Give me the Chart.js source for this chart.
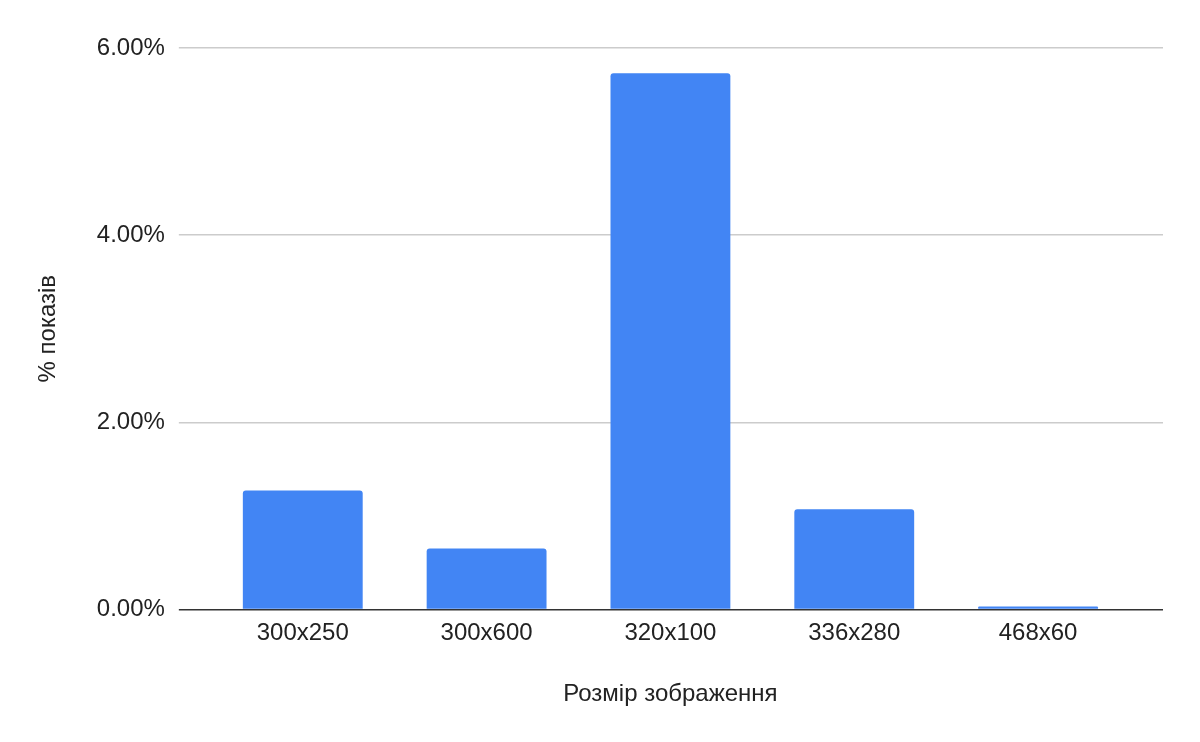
<!DOCTYPE html>
<html>
<head>
<meta charset="utf-8">
<script src="https://cdn.jsdelivr.net/npm/chart.js@4/dist/chart.umd.min.js"></script>
<style>
  html, body { margin: 0; padding: 0; background: #fff; }
  #wrap { width: 1200px; height: 742px; }
</style>
</head>
<body>
<div id="wrap"><canvas id="c"></canvas></div>
<script>
"use strict";
// banner sizes vs share of impressions (in %)
const sizes = ["300x250", "300x600", "320x100", "336x280", "468x60"];
const sharePct = [1.27, 0.65, 5.73, 1.07, 0.03];
const yTicks = [0, 2, 4, 6];

const FONT = "'Liberation Sans', Arial, sans-serif";
const ink = "#222222";
const gridCol = (ctx) => (ctx.tick && ctx.tick.value === 0 ? "#333333" : "#cccccc");

new Chart(document.getElementById("c"), {
  type: "bar",
  data: {
    labels: sizes,
    datasets: [{
      label: "% показів",
      data: sharePct,
      backgroundColor: "#4285f4",
      borderRadius: 3,
      borderSkipped: "start",
      barPercentage: 1,
      categoryPercentage: 0.652,
    }],
  },
  options: {
    responsive: true, maintainAspectRatio: false, animation: false,
    layout: { padding: { top: 48, right: 37, bottom: 4, left: 0 } },
    plugins: { legend: { display: false }, tooltip: { enabled: false } },
    scales: {
      x: {
        grid: { display: false, drawTicks: false },
        border: { display: false },
        ticks: { color: ink, font: { family: FONT, size: 24 }, padding: 10, maxRotation: 0 },
        title: { display: true, text: "Розмір зображення", color: ink,
          font: { family: FONT, size: 24 }, padding: { top: 22, bottom: 29 } },
      },
      y: {
        min: yTicks[0], max: yTicks[yTicks.length - 1],
        afterBuildTicks: (s) => { s.ticks = yTicks.map((v) => ({ value: v })); },
        grid: { color: gridCol, tickColor: gridCol, lineWidth: 1.5, tickLength: 32 },
        border: { display: false },
        ticks: { color: ink, font: { family: FONT, size: 24 }, padding: 14,
          callback: (v) => v.toFixed(2) + "%" },
        title: { display: true, text: "% показів", color: ink,
          font: { family: FONT, size: 24 }, padding: { top: 34, bottom: 20 } },
      },
      yR: {
        type: "linear", position: "right",
        min: yTicks[0], max: yTicks[yTicks.length - 1],
        afterBuildTicks: (s) => { s.ticks = yTicks.map((v) => ({ value: v })); },
        grid: { color: gridCol, tickColor: gridCol, lineWidth: 1.5, tickLength: 33, drawOnChartArea: false },
        border: { display: false },
        ticks: { display: false },
      },
    },
  },
});
</script>
</body>
</html>
